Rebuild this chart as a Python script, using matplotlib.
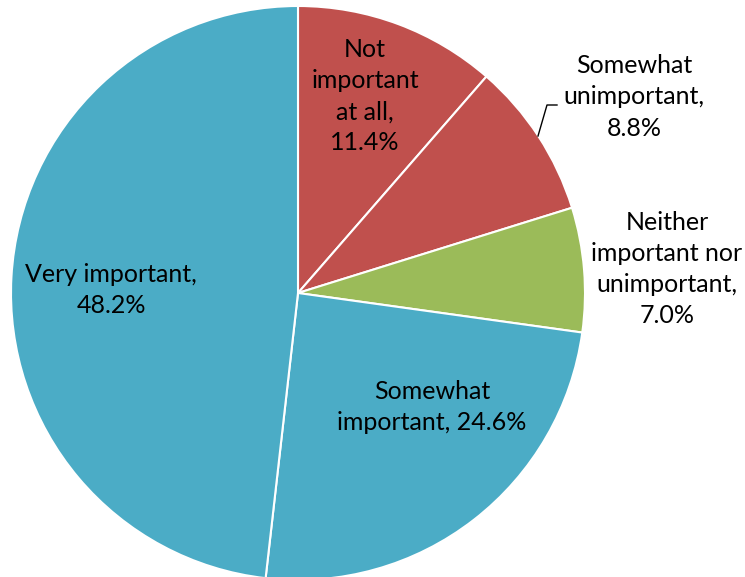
import matplotlib.pyplot as plt

labels = ['Not\nimportant\nat all,\n11.4%', 'Somewhat\nunimportant,\n8.8%',
          'Neither\nimportant nor\nunimportant,\n7.0%', 'Somewhat\nimportant, 24.6%',
          'Very important,\n48.2%']
values = [11.4, 8.8, 7.0, 24.6, 48.2]
colors = ['#C0504D', '#C0504D', '#9BBB59', '#4BACC6', '#4BACC6']

# label centres in pixel space (x from left, y from top)
label_pos = [(365, 96), (634, 97), (667, 269), (432, 407), (111, 290)]

W, H = 745, 577
fig = plt.figure(figsize=(W / 100, H / 100), dpi=100)
ax = fig.add_axes([0, 0, 1, 1])

cx, cy, r = 298, H - 293, 287
ax.pie(values, colors=colors, startangle=90, counterclock=False,
       center=(cx, cy), radius=r, frame=True,
       wedgeprops=dict(edgecolor='white', linewidth=1.5))
ax.set_xlim(0, W)
ax.set_ylim(0, H)
ax.set_aspect('equal')
ax.axis('off')

for lab, (x, y) in zip(labels, label_pos):
    ax.text(x, H - y, lab, ha='center', va='center', fontsize=18,
            family='Lato', linespacing=1.43, color='black')

# leader line for "Somewhat unimportant"
ax.plot([538, 547, 557], [H - 136, H - 105, H - 105], color='black', lw=1)

fig.savefig('out.png', dpi=100)
